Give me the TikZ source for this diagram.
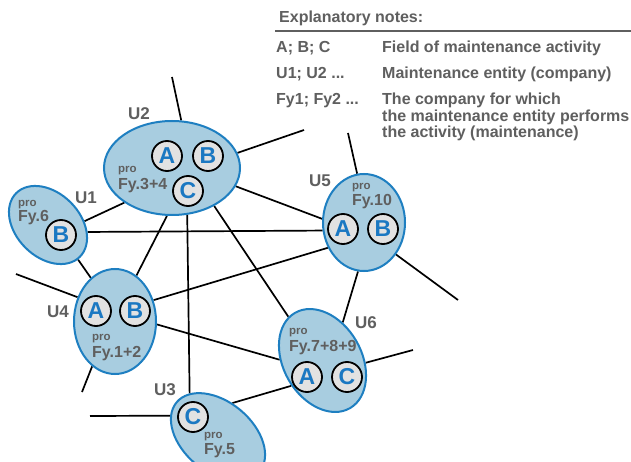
\documentclass[tikz,border=0pt]{standalone}
\usepackage{fontspec}
\setmainfont{Liberation Sans}
\usetikzlibrary{shapes.geometric}
\definecolor{ellblue}{RGB}{30,127,193}
\definecolor{ellfill}{RGB}{168,205,224}
\definecolor{letblue}{RGB}{27,120,194}
\definecolor{circfill}{RGB}{226,226,226}
\definecolor{txtgrey}{RGB}{95,95,95}
\pgfdeclarelayer{background}
\pgfdeclarelayer{paper}
\pgfsetlayers{paper,background,main}
\tikzset{
  ell/.style={ellipse, draw=ellblue, fill=ellfill, line width=2pt, inner sep=0pt},
  act/.style={circle, draw=black, fill=circfill, line width=1.8pt, minimum size=30pt, inner sep=0pt, font=\fontsize{23}{23}\selectfont\bfseries, text=letblue},
  ulab/.style={font=\fontsize{17}{17}\selectfont\bfseries, text=txtgrey, inner sep=0pt},
  protxt/.style={font=\fontsize{11.5}{11.5}\selectfont\bfseries, text=txtgrey, inner sep=0pt, anchor=base west},
  fytxt/.style={font=\fontsize{16}{16}\selectfont\bfseries, text=txtgrey, inner sep=0pt, anchor=base west},
  link/.style={line width=1.7pt, black},
  note/.style={font=\fontsize{16}{16}\selectfont\bfseries, text=txtgrey, inner sep=0pt, anchor=base west},
}
\begin{document}
\begin{tikzpicture}[x=1pt,y=-1pt]
\clip (0,0) rectangle (631,462);
\begin{pgfonlayer}{paper}
\fill[white] (0,0) rectangle (631,462);
\end{pgfonlayer}

% ellipses (maintenance entities)
\node[ell, minimum width=136pt, minimum height=94pt] (U2) at (172,168) {};
\node[ell, minimum width=90pt, minimum height=64pt, rotate=-45] (U1) at (48,225) {};
\node[ell, minimum width=82pt, minimum height=105pt] (U4) at (115,321.5) {};
\node[ell, minimum width=82pt, minimum height=97pt] (U5) at (364,222.5) {};
\node[ell, minimum width=78pt, minimum height=110pt, rotate=30] (U6) at (322.5,360.5) {};
\node[ell, minimum width=108pt, minimum height=70pt, rotate=-40] (U3) at (218,437) {};

% free ends
\coordinate (f1) at (172,77);
\coordinate (f2) at (304,130);
\coordinate (f3) at (16,274);
\coordinate (f4) at (82,392);
\coordinate (f5) at (348,133);
\coordinate (f6) at (458,300);
\coordinate (f7) at (413,350);
\coordinate (f8) at (90,416);

\begin{pgfonlayer}{background}
\draw[link] (U2.79) -- (f1);
\draw[link] (U2.13) -- (f2);
\draw[link] (U2.-16) -- (U5.175);
\draw[link] (U2.-42) -- (U6.98);
\draw[link] (U2.-72) -- (U3.163);
\draw[link] (U2.-96) -- (U4.65);
\draw[link] (U1.51) -- (U2.216);
\draw[link] (U1.35) -- (U5.191);
\draw[link] (U1.-4) -- (U4.119);
\draw[link] (U4.147) -- (f3);
\draw[link] (U4.-117) -- (f4);
\draw[link] (U4.29) -- (U5.215);
\draw[link] (U4.-4) -- (U6.149);
\draw[link] (U5.98) -- (f5);
\draw[link] (U5.-45) -- (f6);
\draw[link] (U5.-97) -- (U6.32);
\draw[link] (U6.-33) -- (f7);
\draw[link] (U6.189) -- (U3.107);
\draw[link] (U3.196) -- (f8);
\end{pgfonlayer}

% activity circles
\node[act] (U2A) at (167,156) {A};
\node[act] (U2B) at (208,156) {B};
\node[act] (U2C) at (188,191) {C};
\node[act] (U1B) at (61,235) {B};
\node[act] (U5A) at (343,229) {A};
\node[act] (U5B) at (383,229) {B};
\node[act] (U4A) at (96,311) {A};
\node[act] (U4B) at (135,311) {B};
\node[act] (U6A) at (307,377) {A};
\node[act] (U6C) at (347,377) {C};
\node[act] (U3C) at (193,417) {C};

% pro / Fy texts
\node[protxt] (p2) at (118,173) {pro};
\node[fytxt] (y2) at (118,190) {Fy.3+4};
\node[protxt] (p1) at (18,207) {pro};
\node[fytxt] (y1) at (18,222) {Fy.6};
\node[protxt] (p5) at (352,190) {pro};
\node[fytxt] (y5) at (352,206) {Fy.10};
\node[protxt] (p4) at (92,340) {pro};
\node[fytxt] (y4) at (92,357) {Fy.1+2};
\node[protxt] (p6) at (289,334) {pro};
\node[fytxt] (y6) at (289,351) {Fy.7+8+9};
\node[protxt] (p3) at (204,438) {pro};
\node[fytxt] (y3) at (204,454) {Fy.5};

% entity labels
\node[ulab] (L2) at (139,114) {U2};
\node[ulab] (L1) at (86,198) {U1};
\node[ulab] (L5) at (320,181) {U5};
\node[ulab] (L4) at (58,312) {U4};
\node[ulab] (L6) at (366,323) {U6};
\node[ulab] (L3) at (165,390) {U3};

% explanatory notes
\node[note] (nh) at (279,23) {Explanatory notes:};
\coordinate (r1) at (275,31);
\coordinate (r2) at (631,31);
\draw[txtgrey, line width=1.5pt] (r1) -- (r2);
\node[note] (k1) at (276,53) {A; B; C};
\node[note] (v1) at (382,53) {Field of maintenance activity};
\node[note] (k2) at (276,79) {U1; U2 ...};
\node[note] (v2) at (382,79) {Maintenance entity (company)};
\node[note] (k3) at (276,105) {Fy1; Fy2 ...};
\node[note] (v3a) at (382,105) {The company for which};
\node[note] (v3b) at (382,121.5) {the maintenance entity performs};
\node[note] (v3c) at (382,138) {the activity (maintenance)};
\end{tikzpicture}
\end{document}
